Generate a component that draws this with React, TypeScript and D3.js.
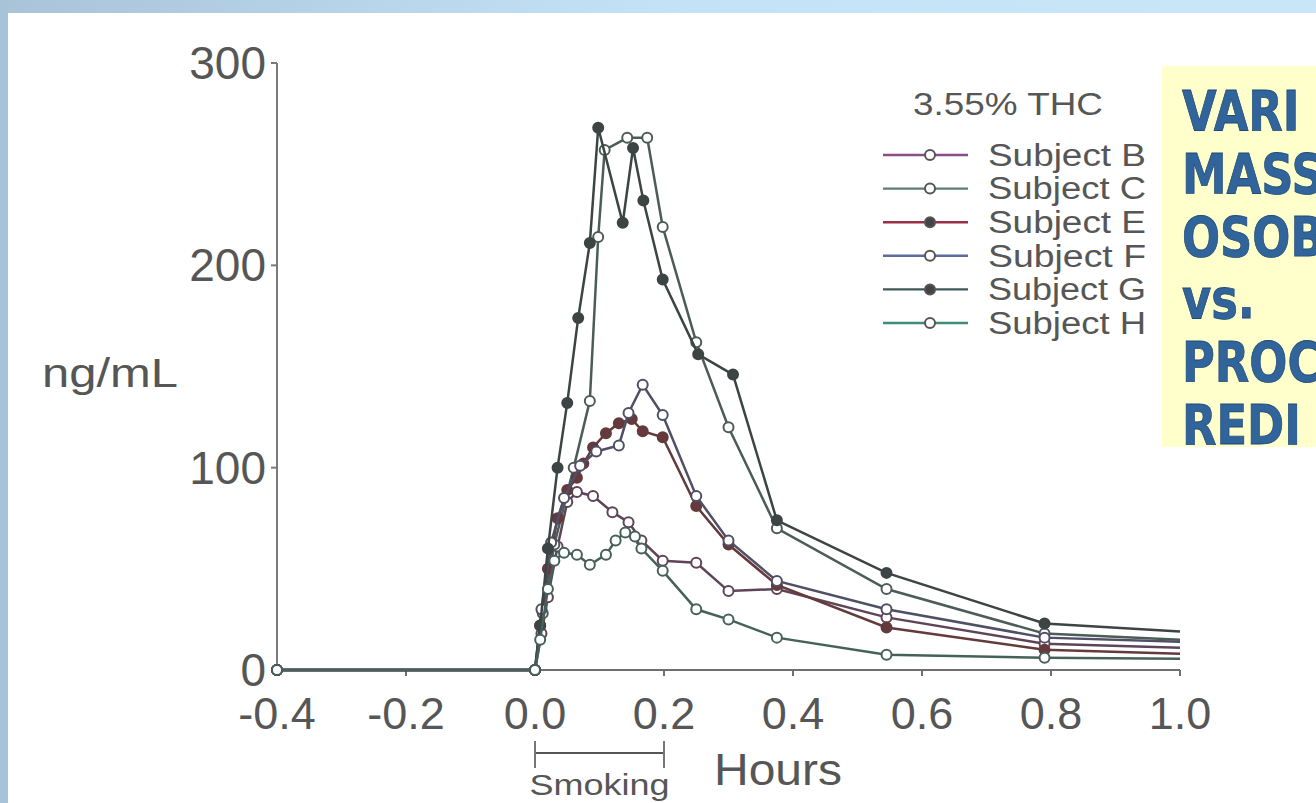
import React from "react";
import * as d3 from "d3";

// legend / series identity
const subjects = ["Subject B", "Subject C", "Subject E", "Subject F", "Subject G", "Subject H"];
const filledMarker = [false, false, true, false, true, false];
const lineColors = ["#5e4458", "#4c5c57", "#643a3c", "#4f4f66", "#3d4444", "#46605a"];
const legendColors = ["#8a4c86", "#5a7f74", "#9a3048", "#5b6aa0", "#3e5a58", "#3f8a78"];

// hours after start of smoking / plasma THC ng/mL
const hoursB = [-0.4, 0, 0.01, 0.02, 0.035, 0.05, 0.065, 0.09, 0.12, 0.145, 0.165, 0.198, 0.25, 0.3, 0.375, 0.545, 0.79, 1.0];
const thcB = [0, 0, 18, 36, 61, 83, 88, 86, 78, 73, 64, 54, 53, 39, 40, 26, 13, 11];

const hoursC = [-0.4, 0, 0.012, 0.03, 0.06, 0.085, 0.098, 0.108, 0.143, 0.174, 0.198, 0.25, 0.3, 0.375, 0.545, 0.79, 1.0];
const thcC = [0, 0, 28, 62, 100, 133, 214, 257, 263, 263, 219, 162, 120, 70, 40, 18, 15];

const hoursE = [-0.4, 0, 0.008, 0.02, 0.035, 0.05, 0.065, 0.075, 0.09, 0.11, 0.13, 0.15, 0.167, 0.198, 0.25, 0.3, 0.375, 0.545, 0.79, 1.0];
const thcE = [0, 0, 22, 50, 75, 89, 95, 102, 110, 117, 122, 124, 118, 115, 81, 62, 42, 21, 10, 8];

const hoursF = [-0.4, 0, 0.01, 0.025, 0.045, 0.07, 0.095, 0.13, 0.145, 0.167, 0.198, 0.25, 0.3, 0.375, 0.545, 0.79, 1.0];
const thcF = [0, 0, 30, 63, 85, 101, 108, 111, 127, 141, 126, 86, 64, 44, 30, 16, 14];

const hoursG = [-0.4, 0, 0.008, 0.02, 0.035, 0.05, 0.067, 0.085, 0.098, 0.136, 0.152, 0.168, 0.198, 0.253, 0.307, 0.375, 0.545, 0.79, 1.0];
const thcG = [0, 0, 22, 60, 100, 132, 174, 211, 268, 221, 258, 232, 193, 156, 146, 74, 48, 23, 19];

const hoursH = [-0.4, 0, 0.008, 0.02, 0.03, 0.045, 0.065, 0.085, 0.11, 0.125, 0.14, 0.155, 0.165, 0.198, 0.25, 0.3, 0.375, 0.545, 0.79, 1.0];
const thcH = [0, 0, 15, 40, 54, 58, 57, 52, 57, 64, 68, 66, 60, 49, 30, 25, 16, 7.5, 6, 5.5];

const xTicks = [-0.4, -0.2, 0, 0.2, 0.4, 0.6, 0.8, 1.0];
const xTickLabels = ["-0.4", "-0.2", "0.0", "0.2", "0.4", "0.6", "0.8", "1.0"];
const yTicks = [0, 100, 200, 300];
const smokingPeriod = [0, 0.2];
const sideText = ["VARI", "MASS", "OSOB", "vs.", "PROC", "REDI"];

type Pt = { t: number; v: number };

const zip = (ts: number[], vs: number[]): Pt[] => ts.map((t, i) => ({ t, v: vs[i] }));

const series = [
  zip(hoursB, thcB),
  zip(hoursC, thcC),
  zip(hoursE, thcE),
  zip(hoursF, thcF),
  zip(hoursG, thcG),
  zip(hoursH, thcH),
];

const font = "'Liberation Sans', Arial, sans-serif";
const grey = "#565656";

export default function App() {
  const W = 1316, H = 803;
  const x = d3.scaleLinear().domain([-0.4, 1.0]).range([277, 1180]);
  const y = d3.scaleLinear().domain([0, 300]).range([670, 63]);
  const line = d3.line<Pt>().x(d => x(d.t)).y(d => y(d.v));

  const legendY = d3.scaleLinear().domain([0, 5]).range([155, 323]);

  return (
    <div>
      <style>{`body{margin:0}`}</style>
      <svg width={W} height={H} style={{ display: "block" }}>
        <defs>
          <linearGradient id="topband" x1="0" x2="1" y1="0" y2="0">
            <stop offset="0" stopColor="#a9c3d8" />
            <stop offset="0.5" stopColor="#c4e2f6" />
            <stop offset="1" stopColor="#c9e6f8" />
          </linearGradient>
        </defs>
        <rect width={W} height={H} fill="#fff" />
        <rect width={W} height={13} fill="url(#topband)" />
        <rect width={8} height={H} fill="#a8c3d8" />

        {/* yellow note box */}
        <rect x={1162} y={66} width={W - 1162} height={381} fill="#ffffcc" />
        <g transform="translate(1182,0) scale(0.8,1)">
          {sideText.map((s, i) => (
            <text key={s} x={0} y={130 + i * 62.8} fontFamily="'DejaVu Sans', sans-serif" fontWeight="bold"
              fontSize={56} fill="#30649a" stroke="#1f4a75" strokeWidth={0.8}>{s}</text>
          ))}
        </g>

        {/* y axis */}
        <line x1={x(-0.4)} x2={x(-0.4)} y1={y(0)} y2={y(300)} stroke="#7a7a7a" strokeWidth={2} />
        {yTicks.map(v => (
          <g key={v}>
            <line x1={x(-0.4) - 6} x2={x(-0.4)} y1={y(v)} y2={y(v)} stroke="#7a7a7a" strokeWidth={2} />
            <text x={x(-0.4) - 11} y={y(v)} dy="0.35em" textAnchor="end" fontFamily={font}
              fontSize={46} fill={grey}>{v}</text>
          </g>
        ))}
        <text x={42} y={373} dy="0.36em" fontFamily={font} fontSize={40} fill={grey}
          textLength={136} lengthAdjust="spacingAndGlyphs">ng/mL</text>

        {/* x axis */}
        <line x1={x(-0.4)} x2={x(1.0)} y1={y(0)} y2={y(0)} stroke="#6f6f6f" strokeWidth={2} />
        {xTicks.map((t, i) => (
          <g key={t}>
            <line x1={x(t)} x2={x(t)} y1={y(0)} y2={y(0) + 6} stroke="#6f6f6f" strokeWidth={2} />
            <text x={x(t)} y={713} dy="0.36em" textAnchor="middle" fontFamily={font}
              fontSize={45} fill={grey}>{xTickLabels[i]}</text>
          </g>
        ))}
        <text x={714} y={769} dy="0.36em" fontFamily={font} fontSize={44} fill={grey}
          textLength={128} lengthAdjust="spacingAndGlyphs">Hours</text>

        {/* smoking bar */}
        <line x1={x(smokingPeriod[0])} x2={x(smokingPeriod[1])} y1={753} y2={753} stroke="#555" strokeWidth={2} />
        <line x1={x(smokingPeriod[0])} x2={x(smokingPeriod[0])} y1={741} y2={768} stroke="#777" strokeWidth={2} />
        <line x1={x(smokingPeriod[1])} x2={x(smokingPeriod[1])} y1={741} y2={768} stroke="#777" strokeWidth={2} />
        <text x={(x(smokingPeriod[0]) + x(smokingPeriod[1])) / 2} y={795} textAnchor="middle" fontFamily={font}
          fontSize={30} fill={grey} textLength={140} lengthAdjust="spacingAndGlyphs">Smoking</text>

        {/* data */}
        {series.map((pts, si) => (
          <g key={si}>
            <path d={line(pts) || ""} fill="none" stroke={lineColors[si]} strokeWidth={2.5} />
            {pts.filter(p => p.t < 0.99).map((p, i) => (
              <circle key={i} cx={x(p.t)} cy={y(p.v)} r={5}
                fill={filledMarker[si] ? lineColors[si] : "#fff"} stroke={lineColors[si]} strokeWidth={2} />
            ))}
          </g>
        ))}

        {/* legend */}
        <text x={913} y={104} dy="0.36em" fontFamily={font} fontSize={31} fill={grey}
          textLength={190} lengthAdjust="spacingAndGlyphs">3.55% THC</text>
        {subjects.map((s, i) => (
          <g key={s}>
            <line x1={883} x2={968} y1={legendY(i)} y2={legendY(i)} stroke={legendColors[i]} strokeWidth={2.4} />
            <circle cx={930} cy={legendY(i)} r={5} fill={filledMarker[i] ? "#444" : "#fff"}
              stroke="#555" strokeWidth={2} />
            <text x={988} y={legendY(i)} dy="0.35em" fontFamily={font} fontSize={31} fill={grey}
              textLength={158} lengthAdjust="spacingAndGlyphs">{s}</text>
          </g>
        ))}
      </svg>
    </div>
  );
}
